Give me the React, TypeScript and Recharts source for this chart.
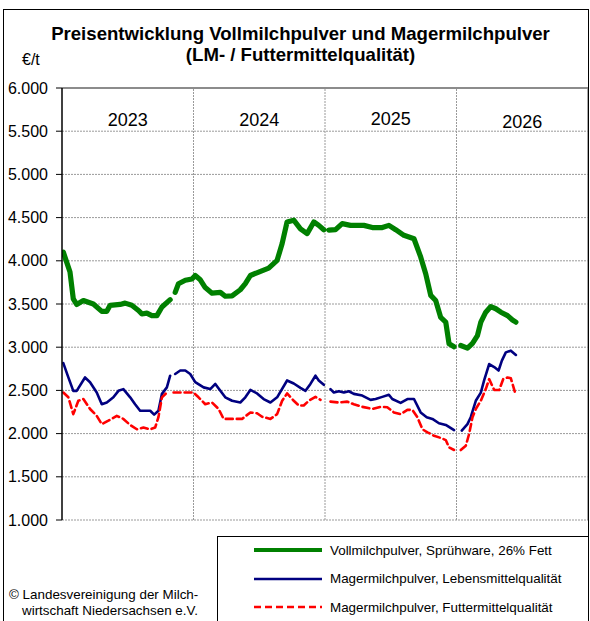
import React from 'react';
import {
  LineChart,
  Line,
  XAxis,
  YAxis,
  CartesianGrid,
  ReferenceLine,
  ReferenceArea,
  Legend,
} from 'recharts';

// x = month index counted from January 2023 (0 = start of 2023, 48 = end of 2026)
const years = ['2023', '2024', '2025', '2026'];
const yearStarts = [0, 12, 24, 36];
const yearDividers = [12, 24, 36];
const yTicks = [1000, 1500, 2000, 2500, 3000, 3500, 4000, 4500, 5000, 5500, 6000];

const seriesNames = [
  'Vollmilchpulver, Sprühware, 26% Fett',
  'Magermilchpulver, Lebensmittelqualität',
  'Magermilchpulver, Futtermittelqualität',
];

// Vollmilchpulver [month, €/t] (null = gap)
const vmp: [number, number | null][] = [
  [0.12, 4100], [0.73, 3870], [1.03, 3560], [1.34, 3495], [1.95, 3540], [2.86, 3500],
  [3.63, 3415], [4.09, 3415], [4.39, 3485], [5.3, 3495], [5.76, 3510], [6.37, 3485],
  [6.98, 3425], [7.29, 3385], [7.74, 3395], [8.2, 3365], [8.66, 3365], [9.12, 3465],
  [9.87, 3550], [10.1, null], [10.33, 3635], [10.63, 3735], [11.25, 3775], [11.86, 3790],
  [12.16, 3830], [12.62, 3780], [13.07, 3690], [13.69, 3625], [14.45, 3635], [14.9, 3590],
  [15.52, 3595], [16.27, 3665], [16.73, 3735], [17.19, 3830], [17.95, 3870], [18.86, 3915],
  [19.63, 4005], [20.09, 4200], [20.54, 4450], [21.15, 4470], [21.76, 4370], [22.37, 4315],
  [22.98, 4450], [23.43, 4410], [23.89, 4360], [24.1, null], [24.35, 4355], [24.96, 4360],
  [25.57, 4430], [26.33, 4410], [27.55, 4410], [28.32, 4385], [29.23, 4385], [29.83, 4410],
  [30.45, 4360], [31.2, 4295], [32.12, 4255], [32.73, 4045], [33.19, 3850], [33.65, 3600],
  [34.1, 3540], [34.56, 3345], [35.02, 3290], [35.32, 3040], [35.78, 3005], [36.1, null],
  [36.39, 3020], [37.0, 2990], [37.46, 3045], [37.91, 3135], [38.22, 3290], [38.67, 3405],
  [39.13, 3470], [39.59, 3445], [40.05, 3405], [40.66, 3365], [41.11, 3315], [41.42, 3290],
];

// Magermilchpulver, Lebensmittelqualität
const mmpLm: [number, number | null][] = [
  [0.12, 2815], [0.58, 2650], [1.03, 2495], [1.34, 2495], [2.1, 2650], [2.56, 2595],
  [3.17, 2475], [3.63, 2340], [4.09, 2360], [4.69, 2420], [5.15, 2495], [5.6, 2515],
  [6.22, 2420], [6.67, 2340], [7.13, 2265], [7.59, 2265], [8.05, 2265], [8.41, 2220],
  [8.8, 2265], [9.12, 2460], [9.57, 2535], [9.87, 2670], [10.1, null], [10.33, 2690],
  [10.79, 2730], [11.25, 2730], [11.7, 2690], [12.16, 2595], [12.92, 2535], [13.53, 2515],
  [13.99, 2575], [14.45, 2495], [14.9, 2420], [15.52, 2380], [16.27, 2360], [16.73, 2420],
  [17.19, 2505], [17.8, 2465], [18.4, 2400], [19.02, 2360], [19.63, 2420], [20.54, 2615],
  [21.15, 2580], [21.76, 2530], [22.22, 2495], [22.67, 2575], [23.13, 2670], [23.43, 2615],
  [23.89, 2565], [24.2, null], [24.5, 2515], [24.81, 2475], [25.26, 2490], [25.72, 2475],
  [26.18, 2490], [26.63, 2460], [27.4, 2440], [28.16, 2390], [28.62, 2400], [29.23, 2425],
  [29.83, 2450], [30.14, 2400], [30.9, 2355], [31.52, 2400], [32.12, 2400], [32.73, 2245],
  [33.28, 2190], [33.8, 2170], [34.4, 2120], [35.02, 2100], [35.78, 2040], [36.1, null],
  [36.48, 2035], [37.0, 2110], [37.3, 2190], [37.76, 2380], [38.22, 2475], [38.52, 2615],
  [38.98, 2805], [39.44, 2770], [39.84, 2730], [40.14, 2845], [40.5, 2940], [40.96, 2960],
  [41.42, 2910],
];

// Magermilchpulver, Futtermittelqualität
const mmpFm: [number, number | null][] = [
  [0.12, 2475], [0.58, 2420], [1.03, 2225], [1.49, 2380], [1.95, 2400], [2.56, 2285],
  [3.17, 2205], [3.63, 2110], [4.23, 2150], [5.0, 2205], [5.6, 2170], [6.22, 2100],
  [6.83, 2050], [7.43, 2070], [8.05, 2050], [8.5, 2070], [8.8, 2190], [9.12, 2420],
  [9.57, 2475], [9.9, null], [10.18, 2475], [11.09, 2475], [12.0, 2475], [12.46, 2420],
  [13.07, 2340], [13.69, 2360], [14.29, 2285], [14.75, 2170], [15.66, 2170], [16.43, 2170],
  [17.19, 2245], [17.8, 2235], [18.26, 2195], [19.02, 2170], [19.63, 2225], [20.09, 2380],
  [20.54, 2465], [21.15, 2380], [21.61, 2325], [22.06, 2325], [22.52, 2380], [23.13, 2425],
  [23.59, 2390], [24.0, null], [24.5, 2370], [25.26, 2360], [26.03, 2370], [26.63, 2340],
  [27.4, 2310], [28.32, 2285], [29.07, 2310], [29.68, 2305], [30.29, 2245], [30.9, 2225],
  [31.52, 2275], [31.97, 2275], [32.43, 2190], [32.89, 2050], [33.35, 2015], [33.95, 1975],
  [34.56, 1950], [35.02, 1925], [35.32, 1840], [35.78, 1810], [36.1, null], [36.39, 1810],
  [36.85, 1860], [37.15, 1995], [37.46, 2190], [37.76, 2285], [38.22, 2380], [38.67, 2515],
  [38.98, 2630], [39.44, 2505], [39.9, 2505], [40.26, 2630], [40.66, 2650], [40.96, 2640],
  [41.38, 2460],
];

const FONT = '"Liberation Sans", Arial, sans-serif';

const toData = (pairs: [number, number | null][]) => pairs.map(([m, v]) => ({ m, v }));

const seriesStyles = [
  { name: seriesNames[0], color: '#008000', width: 5.2, legendWidth: 4, dash: undefined as string | undefined, data: toData(vmp) },
  { name: seriesNames[1], color: '#000080', width: 2.6, legendWidth: 2.6, dash: undefined as string | undefined, data: toData(mmpLm) },
  { name: seriesNames[2], color: '#ff0000', width: 2.6, legendWidth: 2.6, dash: '7 4', data: toData(mmpFm) },
];

const fmt = (v: number) => String(v).replace(/\B(?=(\d{3})+(?!\d))/g, '.');

const renderLegend = (props: any) => {
  const payload = [...(props.payload || [])].sort(
    (a: any, b: any) => seriesNames.indexOf(a.value) - seriesNames.indexOf(b.value)
  );
  return (
    <div
      style={{
        position: 'relative',
        width: 372,
        height: 100,
        border: '1px solid #000',
        boxSizing: 'border-box',
        background: '#fff',
        fontFamily: FONT,
        fontSize: 13.4,
        color: '#000',
      }}
    >
      {payload.map((entry: any, i: number) => {
        const s = seriesStyles.find((x) => x.name === entry.value) || seriesStyles[i];
        return (
          <div
            key={i}
            style={{
              position: 'absolute',
              left: 35,
              top: 4 + i * 28.5,
              height: 18,
              display: 'flex',
              alignItems: 'center',
              whiteSpace: 'nowrap',
            }}
          >
            <svg width={70} height={10} style={{ display: 'block' }}>
              <line
                x1={1}
                x2={69}
                y1={5}
                y2={5}
                stroke={entry.color}
                strokeWidth={s.legendWidth}
                strokeDasharray={s.dash}
              />
            </svg>
            <span style={{ marginLeft: 7 }}>{entry.value}</span>
          </div>
        );
      })}
    </div>
  );
};

export default function App() {
  return (
    <div
      style={{
        position: 'absolute',
        left: 0,
        top: 0,
        width: 590,
        height: 621,
        overflow: 'hidden',
        background: '#fff',
        fontFamily: FONT,
      }}
    >
      <LineChart
        width={590}
        height={621}
        margin={{ top: 88, right: 2, left: 0, bottom: 101 }}
      >
        <CartesianGrid
          vertical={false}
          stroke="#9a9a9a"
          strokeDasharray="2 1"
        />
        <XAxis
          type="number"
          dataKey="m"
          domain={[0, 48]}
          ticks={[0, 48]}
          tick={false}
          tickLine={false}
          height={0}
          axisLine={{ stroke: '#000', strokeWidth: 1.5 }}
          allowDataOverflow
        />
        <YAxis
          type="number"
          domain={[1000, 6000]}
          ticks={yTicks}
          width={62}
          interval={0}
          tickFormatter={fmt}
          tickSize={6}
          tickMargin={8}
          axisLine={{ stroke: '#000', strokeWidth: 1.5 }}
          tickLine={{ stroke: '#000' }}
          tick={{ fill: '#000', fontSize: 16, fontFamily: FONT }}
        />
        {years.map((y, i) => (
          <ReferenceArea
            key={y}
            x1={yearStarts[i]}
            x2={yearStarts[i] + 12}
            fill="none"
            fillOpacity={0}
            stroke="none"
            label={{
              value: y,
              position: 'insideTop',
              offset: i === 3 ? 27 : i === 2 ? 24 : 25,
              fill: '#000',
              fontSize: 18,
              fontFamily: FONT,
            }}
          />
        ))}
        {yearDividers.map((x) => (
          <ReferenceLine key={x} x={x} stroke="#9a9a9a" strokeDasharray="2 1" />
        ))}
        <ReferenceLine y={6000} stroke="#8c8c8c" strokeWidth={2} />
        <ReferenceLine x={48} stroke="#8c8c8c" strokeWidth={1.5} />
        {seriesStyles.map((s) => (
          <Line
            key={s.name}
            data={s.data}
            dataKey="v"
            name={s.name}
            type="linear"
            stroke={s.color}
            strokeWidth={s.width}
            strokeDasharray={s.dash}
            strokeLinecap="round"
            strokeLinejoin="round"
            dot={false}
            activeDot={false}
            connectNulls={false}
            isAnimationActive={false}
          />
        ))}
        <Legend
          layout="horizontal"
          verticalAlign="middle"
          align="center"
          width={372}
          height={100}
          content={renderLegend}
          wrapperStyle={{ left: 217, top: 536, bottom: 'auto', width: 372, height: 100 }}
        />
      </LineChart>

      {/* Title */}
      <div
        style={{
          position: 'absolute',
          left: 0,
          width: 601,
          top: 23,
          textAlign: 'center',
          fontWeight: 'bold',
          fontSize: 18.6,
          lineHeight: '21px',
          color: '#000',
          whiteSpace: 'nowrap',
        }}
      >
        Preisentwicklung Vollmilchpulver und Magermilchpulver
        <br />
        (LM- / Futtermittelqualität)
      </div>
      <div style={{ position: 'absolute', left: 22, top: 50, fontSize: 16, lineHeight: '20px', color: '#000' }}>
        €/t
      </div>
      <div
        style={{
          position: 'absolute',
          left: 9,
          top: 587,
          fontSize: 13.4,
          lineHeight: '16px',
          color: '#000',
          whiteSpace: 'nowrap',
        }}
      >
        © Landesvereinigung der Milch-
        <br />
        <span style={{ marginLeft: 13 }}>wirtschaft Niedersachsen e.V.</span>
      </div>
      {/* outer frame */}
      <div
        style={{
          position: 'absolute',
          left: 3,
          top: 9,
          width: 586,
          height: 700,
          border: '1px solid #000',
          boxSizing: 'border-box',
          pointerEvents: 'none',
        }}
      />
    </div>
  );
}
